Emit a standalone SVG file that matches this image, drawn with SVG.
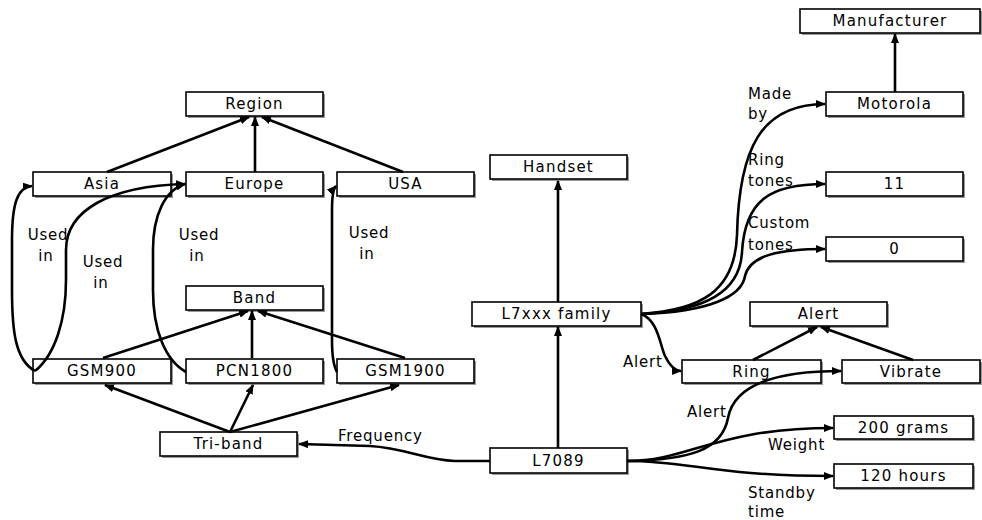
<svg xmlns="http://www.w3.org/2000/svg" width="982" height="520" viewBox="0 0 982 520">
<style>
.box rect.s{fill:#9a9a9a;stroke:none}
.box rect.b{fill:#fff;stroke:#000;stroke-width:1.6}
.box text{font-family:"DejaVu Sans",Verdana,sans-serif;font-size:15px;letter-spacing:1.2px;text-anchor:middle;fill:#000}
.lbl{font-family:"DejaVu Sans",Verdana,sans-serif;font-size:15px;letter-spacing:0.8px;fill:#000}
.mid{text-anchor:middle}
#connectors path{fill:none;stroke:#000;stroke-width:2.6;marker-end:url(#arr)}
</style>
<defs>
<marker id="arr" markerUnits="userSpaceOnUse" markerWidth="10" markerHeight="8" refX="9" refY="4" orient="auto">
<path d="M0,0 L10,4 L0,8 z" fill="#000"/>
</marker>
</defs>
<rect width="982" height="520" fill="#fff"/>

<g id="region" class="box"><rect class="s" x="188" y="94" width="137" height="24"/><rect class="b" x="186" y="92" width="137" height="24"/><text x="254.5" y="109">Region</text></g>
<g id="asia" class="box"><rect class="s" x="35" y="174" width="138" height="24"/><rect class="b" x="33" y="172" width="138" height="24"/><text x="102" y="189">Asia</text></g>
<g id="europe" class="box"><rect class="s" x="188" y="174" width="137" height="24"/><rect class="b" x="186" y="172" width="137" height="24"/><text x="254.5" y="189">Europe</text></g>
<g id="usa" class="box"><rect class="s" x="339" y="174" width="137" height="24"/><rect class="b" x="337" y="172" width="137" height="24"/><text x="405.5" y="189">USA</text></g>
<g id="band" class="box"><rect class="s" x="188" y="288" width="137" height="24"/><rect class="b" x="186" y="286" width="137" height="24"/><text x="254.5" y="303">Band</text></g>
<g id="gsm900" class="box"><rect class="s" x="35" y="361" width="138" height="24"/><rect class="b" x="33" y="359" width="138" height="24"/><text x="102" y="376">GSM900</text></g>
<g id="pcn1800" class="box"><rect class="s" x="188" y="361" width="137" height="24"/><rect class="b" x="186" y="359" width="137" height="24"/><text x="254.5" y="376">PCN1800</text></g>
<g id="gsm1900" class="box"><rect class="s" x="339" y="361" width="137" height="24"/><rect class="b" x="337" y="359" width="137" height="24"/><text x="405.5" y="376">GSM1900</text></g>
<g id="triband" class="box"><rect class="s" x="162" y="434" width="137" height="24"/><rect class="b" x="160" y="432" width="137" height="24"/><text x="228.5" y="449">Tri-band</text></g>
<g id="handset" class="box"><rect class="s" x="492" y="157" width="137" height="24"/><rect class="b" x="490" y="155" width="137" height="24"/><text x="558.5" y="172">Handset</text></g>
<g id="l7xxx" class="box"><rect class="s" x="474" y="304" width="169" height="24"/><rect class="b" x="472" y="302" width="169" height="24"/><text x="556.5" y="319">L7xxx family</text></g>
<g id="l7089" class="box"><rect class="s" x="492" y="450" width="137" height="25"/><rect class="b" x="490" y="448" width="137" height="25"/><text x="558.5" y="466">L7089</text></g>
<g id="manufacturer" class="box"><rect class="s" x="802" y="11" width="180" height="24"/><rect class="b" x="800" y="9" width="180" height="24"/><text x="890" y="26">Manufacturer</text></g>
<g id="motorola" class="box"><rect class="s" x="828" y="94" width="137" height="24"/><rect class="b" x="826" y="92" width="137" height="24"/><text x="894.5" y="109">Motorola</text></g>
<g id="n11" class="box"><rect class="s" x="828" y="174" width="137" height="24"/><rect class="b" x="826" y="172" width="137" height="24"/><text x="894.5" y="189">11</text></g>
<g id="n0" class="box"><rect class="s" x="828" y="239" width="137" height="24"/><rect class="b" x="826" y="237" width="137" height="24"/><text x="894.5" y="254">0</text></g>
<g id="alert" class="box"><rect class="s" x="752" y="304" width="137" height="24"/><rect class="b" x="750" y="302" width="137" height="24"/><text x="818.5" y="319">Alert</text></g>
<g id="ring" class="box"><rect class="s" x="684" y="362" width="139" height="23"/><rect class="b" x="682" y="360" width="139" height="23"/><text x="751.5" y="377">Ring</text></g>
<g id="vibrate" class="box"><rect class="s" x="844" y="362" width="138" height="23"/><rect class="b" x="842" y="360" width="138" height="23"/><text x="911" y="377">Vibrate</text></g>
<g id="grams" class="box"><rect class="s" x="836" y="418" width="139" height="23"/><rect class="b" x="834" y="416" width="139" height="23"/><text x="903.5" y="433">200 grams</text></g>
<g id="hours" class="box"><rect class="s" x="836" y="466" width="139" height="24"/><rect class="b" x="834" y="464" width="139" height="24"/><text x="903.5" y="481">120 hours</text></g>

<g id="connectors">
<path d="M107,172 L249,117"/>
<path d="M255,172 L255,117"/>
<path d="M403,172 L262,117"/>
<path d="M103,358 L248,311"/>
<path d="M252,358 L252,311"/>
<path d="M405,358 L258,311"/>
<path d="M230,432 L105,385"/>
<path d="M230,432 L253,385"/>
<path d="M230,432 L399,385"/>
<path d="M490,461 L455,461 C425,460 405,448 370,446 L299,444"/>
<path d="M558,448 L558,327"/>
<path d="M558,302 L558,181"/>
<path d="M895,92 L895,34"/>
<path d="M641,314 C700,310 735,292 737,235 C739,150 760,104 825,104"/>
<path d="M641,314 C705,311 740,292 742,252 C745,200 770,184 825,184"/>
<path d="M641,314 C710,312 742,296 745,276 C750,255 780,249 825,249"/>
<path d="M641,314 C658,320 660,345 665,356 C670,366 675,371 681,371"/>
<path d="M627,461 C690,460 722,450 728,418 C734,385 775,371 841,371"/>
<path d="M627,461 C690,461 715,428 833,428"/>
<path d="M627,461 C690,461 715,476 833,476"/>
<path d="M753,360 L817,327"/>
<path d="M913,360 L821,327"/>
<path d="M35,371 C15,360 12,330 12,290 L12,240 C12,205 17,187 32,186"/>
<path d="M35,371 C55,355 66,320 66,280 L66,250 C66,210 110,186 185,184"/>
<path d="M186,372 C165,360 153,330 153,290 L153,250 C153,215 165,190 185,184"/>
<path d="M337,372 C333,365 332,355 332,340 L332,210 C332,196 333,189 336,186"/>
</g>

<g id="labels">
<text class="lbl mid" x="48" y="240">Used</text><text class="lbl mid" x="46" y="261">in</text>
<text class="lbl mid" x="103" y="267">Used</text><text class="lbl mid" x="101" y="288">in</text>
<text class="lbl mid" x="199" y="240">Used</text><text class="lbl mid" x="197" y="261">in</text>
<text class="lbl mid" x="369" y="238">Used</text><text class="lbl mid" x="367" y="259">in</text>
<text class="lbl" x="338" y="441">Frequency</text>
<text class="lbl" x="748" y="99">Made</text><text class="lbl" x="748" y="119">by</text>
<text class="lbl" x="748" y="165">Ring</text><text class="lbl" x="748" y="186">tones</text>
<text class="lbl" x="748" y="228">Custom</text><text class="lbl" x="748" y="250">tones</text>
<text class="lbl" x="623" y="367">Alert</text>
<text class="lbl" x="687" y="417">Alert</text>
<text class="lbl" x="768" y="450">Weight</text>
<text class="lbl" x="748" y="498">Standby</text><text class="lbl" x="748" y="517">time</text>
</g>
</svg>
